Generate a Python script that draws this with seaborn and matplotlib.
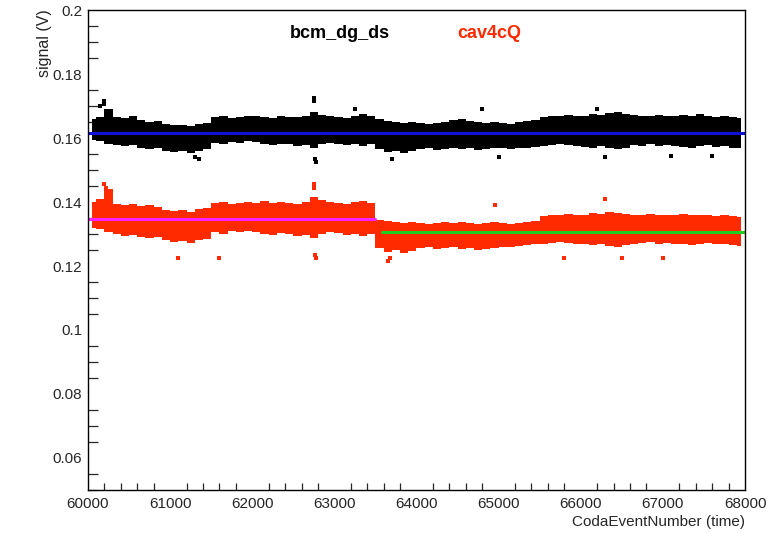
import numpy as np
import pandas as pd
import matplotlib
matplotlib.use("Agg")
import matplotlib.pyplot as plt
from matplotlib.ticker import MultipleLocator, FuncFormatter
import seaborn as sns

# ---- data (100-event bins, dense band envelope) ----
bin_start = 60000
bin_width = 100

bcm_hi = [0.1660,0.1665,0.1690,0.1665,0.1662,0.1668,0.1655,0.1650,0.1652,0.1645,
          0.1640,0.1642,0.1638,0.1645,0.1648,0.1665,0.1668,0.1662,0.1665,0.1670,
          0.1668,0.1665,0.1662,0.1668,0.1666,0.1665,0.1668,0.1680,0.1672,0.1668,
          0.1665,0.1662,0.1670,0.1675,0.1668,0.1660,0.1652,0.1650,0.1648,0.1650,
          0.1648,0.1645,0.1648,0.1650,0.1655,0.1658,0.1652,0.1650,0.1648,0.1650,
          0.1648,0.1645,0.1650,0.1652,0.1655,0.1665,0.1668,0.1670,0.1672,0.1668,
          0.1670,0.1675,0.1672,0.1678,0.1680,0.1675,0.1672,0.1670,0.1668,0.1672,
          0.1670,0.1668,0.1672,0.1670,0.1675,0.1668,0.1665,0.1668,0.1665,0.1662]
bcm_lo = [0.1595,0.1590,0.1580,0.1578,0.1575,0.1578,0.1570,0.1565,0.1568,0.1560,
          0.1555,0.1558,0.1552,0.1560,0.1565,0.1585,0.1580,0.1588,0.1585,0.1590,
          0.1588,0.1580,0.1578,0.1582,0.1580,0.1575,0.1578,0.1570,0.1580,0.1585,
          0.1582,0.1578,0.1580,0.1575,0.1580,0.1565,0.1555,0.1558,0.1552,0.1560,
          0.1565,0.1568,0.1562,0.1565,0.1570,0.1565,0.1568,0.1562,0.1565,0.1570,
          0.1568,0.1565,0.1570,0.1568,0.1572,0.1575,0.1578,0.1580,0.1578,0.1575,
          0.1572,0.1570,0.1575,0.1568,0.1565,0.1570,0.1578,0.1575,0.1580,0.1575,
          0.1578,0.1575,0.1572,0.1570,0.1575,0.1578,0.1572,0.1575,0.1570,0.1568]
cav_hi = [0.1400,0.1410,0.1440,0.1395,0.1392,0.1395,0.1388,0.1390,0.1385,0.1375,
          0.1372,0.1375,0.1370,0.1378,0.1380,0.1398,0.1400,0.1395,0.1398,0.1400,
          0.1398,0.1402,0.1398,0.1400,0.1398,0.1395,0.1400,0.1415,0.1405,0.1400,
          0.1398,0.1395,0.1400,0.1402,0.1398,0.1345,0.1340,0.1338,0.1335,0.1338,
          0.1335,0.1332,0.1335,0.1338,0.1335,0.1338,0.1335,0.1332,0.1335,0.1338,
          0.1335,0.1332,0.1335,0.1338,0.1340,0.1355,0.1358,0.1360,0.1362,0.1358,
          0.1360,0.1365,0.1362,0.1368,0.1365,0.1362,0.1360,0.1358,0.1362,0.1360,
          0.1358,0.1360,0.1362,0.1358,0.1360,0.1358,0.1355,0.1358,0.1355,0.1352]
cav_lo = [0.1318,0.1315,0.1305,0.1300,0.1295,0.1298,0.1290,0.1288,0.1290,0.1282,
          0.1275,0.1278,0.1272,0.1280,0.1285,0.1305,0.1300,0.1308,0.1305,0.1310,
          0.1305,0.1300,0.1298,0.1302,0.1300,0.1295,0.1298,0.1288,0.1300,0.1305,
          0.1302,0.1298,0.1300,0.1295,0.1300,0.1255,0.1245,0.1250,0.1242,0.1248,
          0.1255,0.1258,0.1252,0.1255,0.1258,0.1252,0.1255,0.1250,0.1252,0.1255,
          0.1258,0.1260,0.1262,0.1265,0.1268,0.1270,0.1272,0.1275,0.1272,0.1270,
          0.1268,0.1265,0.1270,0.1262,0.1260,0.1265,0.1270,0.1272,0.1275,0.1270,
          0.1272,0.1270,0.1268,0.1265,0.1270,0.1272,0.1268,0.1270,0.1265,0.1262]

# isolated outlier points
bcm_out_x = [60150, 60200, 60200, 61300, 61350, 62750, 62750, 62760, 62780, 63250,
             63700, 64800, 65000, 66200, 66300, 67100, 67600]
bcm_out_y = [0.1700, 0.1715, 0.1705, 0.1540, 0.1535, 0.1725, 0.1715, 0.1535, 0.1525, 0.1690,
             0.1535, 0.1690, 0.1540, 0.1690, 0.1540, 0.1545, 0.1545]
cav_out_x = [60200, 60220, 61100, 61600, 62750, 62750, 62760, 62780, 63650, 63680,
             64950, 65800, 66300, 66500, 67000]
cav_out_y = [0.1455, 0.1445, 0.1225, 0.1225, 0.1455, 0.1445, 0.1235, 0.1225, 0.1215, 0.1225,
             0.1390, 0.1225, 0.1410, 0.1225, 0.1225]

# fit lines
fit_names = ["bcm", "bcm", "cav_a", "cav_a", "cav_b", "cav_b"]
fit_x = [60000, 68000, 60000, 63500, 63580, 68000]
fit_y = [0.1617, 0.1617, 0.1348, 0.1348, 0.1306, 0.1306]

x_ticks = [60000, 61000, 62000, 63000, 64000, 65000, 66000, 67000, 68000]
y_ticks = [0.06, 0.08, 0.1, 0.12, 0.14, 0.16, 0.18, 0.2]

# ---- plotting ----
sns.set_theme(style="white")
plt.rcParams["font.family"] = ["Liberation Sans", "DejaVu Sans"]

fig = plt.figure(figsize=(7.73, 5.33), dpi=100)
ax = fig.add_axes([0.1138, 0.0807, 0.8500, 0.9005])

xc = bin_start + bin_width * (np.arange(len(bcm_hi)) + 0.5)
red = "#ff2a00"
ax.fill_between(xc, bcm_lo, bcm_hi, step="mid", color="black", lw=0)
ax.fill_between(xc, cav_lo, cav_hi, step="mid", color=red, lw=0)

sns.scatterplot(x=bcm_out_x, y=bcm_out_y, color="black", marker="s", s=5,
                linewidth=0, ax=ax)
sns.scatterplot(x=cav_out_x, y=cav_out_y, color=red, marker="s", s=5,
                linewidth=0, ax=ax)

fits = pd.DataFrame({"name": fit_names, "x": fit_x, "y": fit_y})
sns.lineplot(data=fits, x="x", y="y", hue="name",
             palette={"bcm": "#1010d8", "cav_a": "#ff20ff", "cav_b": "#20d020"},
             lw=2.2, legend=False, ax=ax, estimator=None, sort=False)

ax.set_xlim(60000, 68000)
ax.set_ylim(0.05, 0.2)
ax.set_xticks(x_ticks)
ax.set_yticks(y_ticks)
ax.xaxis.set_minor_locator(MultipleLocator(200))
ax.yaxis.set_minor_locator(MultipleLocator(0.005))
ax.yaxis.set_major_formatter(FuncFormatter(lambda v, p: "%g" % round(v, 3)))
ax.tick_params(axis="y", which="major", direction="in", length=14.5, width=0.9,
               labelsize=11, pad=4, right=False)
ax.tick_params(axis="y", which="minor", direction="in", length=7.2, width=0.9,
               left=True, right=False)
ax.tick_params(axis="x", which="major", direction="in", length=10, width=0.9,
               labelsize=11, pad=5, top=False)
ax.tick_params(axis="x", which="minor", direction="in", length=5, width=0.9,
               bottom=True, top=False)
for s in ax.spines.values():
    s.set_color("black")
    s.set_linewidth(1.0)

ax.set_xlabel("")
ax.set_ylabel("")
fig.text(0.964, 0.008, "CodaEventNumber (time)", ha="right", va="bottom", fontsize=11)
fig.text(0.058, 0.982, "signal (V)", rotation=90, ha="center", va="top", fontsize=11.5)

fig.text(0.4395, 0.938, "bcm_dg_ds", ha="center", va="center", fontsize=13,
         fontweight="bold", color="black")
fig.text(0.633, 0.938, "cav4cQ", ha="center", va="center", fontsize=13,
         fontweight="bold", color=red)

fig.savefig("out.png", dpi=100)
